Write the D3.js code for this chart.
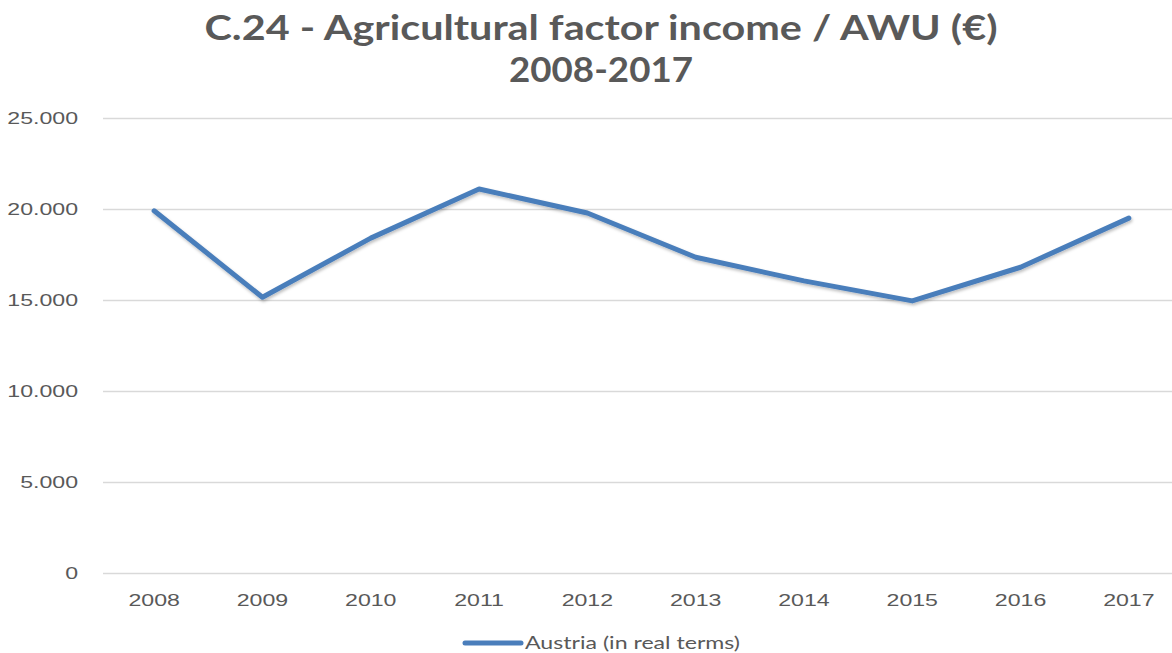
<!DOCTYPE html>
<html>
<head>
<meta charset="utf-8">
<script src="https://cdn.jsdelivr.net/npm/d3@7"></script>
<style>
  html, body { margin: 0; padding: 0; background: #fff; }
  svg { display: block; font-family: Lato, "Open Sans", sans-serif; }
</style>
</head>
<body>
<svg id="chart" width="1172" height="653"></svg>
<script>
const titleLines = ["C.24 - Agricultural factor income / AWU (€)", "2008-2017"];
const years = ["2008","2009","2010","2011","2012","2013","2014","2015","2016","2017"];
const austria = [19900, 15150, 18400, 21100, 19780, 17350, 16050, 14950, 16800, 19500];
const yTicks = [0, 5000, 10000, 15000, 20000, 25000];
const seriesName = "Austria (in real terms)";

const W = 1172, H = 653;
const m = { left: 100, right: -11, top: 118, bottom: 80 };
const svg = d3.select("#chart");
const textColor = "#595959";
const lineColor = "#4a7ebb";
const stretch = 1.36; // reference text appears horizontally stretched

function widen(sel, factor) {
  sel.each(function () {
    const w = this.getComputedTextLength();
    d3.select(this).attr("textLength", w * factor).attr("lengthAdjust", "spacingAndGlyphs");
  });
}

const locale = d3.formatLocale({ decimal: ",", thousands: ".", grouping: [3], currency: ["€", ""] });
const fmt = locale.format(",");

const x = d3.scaleBand().domain(years).range([m.left, W - m.right]);
const y = d3.scaleLinear().domain([0, 25000]).range([H - m.bottom, m.top]);

// title
const titles = svg.selectAll("text.title").data(titleLines).enter().append("text")
  .attr("class", "title")
  .attr("x", 601).attr("y", (d, i) => 40 + i * 42)
  .attr("text-anchor", "middle")
  .attr("font-size", 34).attr("font-weight", "bold")
  .attr("fill", textColor)
  .text(d => d);
titles.attr("textLength", (d, i) => i === 0 ? 793 : 184).attr("lengthAdjust", "spacingAndGlyphs");

// gridlines
const yAxis = d3.axisLeft(y).tickValues(yTicks).tickSize(-(W - m.left)).tickFormat(fmt).tickPadding(25);
const gy = svg.append("g").attr("transform", `translate(${m.left + 3},0)`).call(yAxis);
gy.select(".domain").remove();
gy.selectAll(".tick line").attr("stroke", "#d9d9d9").attr("stroke-width", 1.5);
gy.selectAll(".tick text").attr("fill", textColor).attr("font-size", 17).call(widen, stretch);

// x axis labels
const xAxis = d3.axisBottom(x).tickSize(0).tickPadding(21);
const gx = svg.append("g").attr("transform", `translate(0,${H - m.bottom})`).call(xAxis);
gx.select(".domain").remove();
gx.selectAll(".tick text").attr("fill", textColor).attr("font-size", 17).call(widen, stretch);

// shadow filter
const defs = svg.append("defs");
const f = defs.append("filter").attr("id", "sh").attr("x", "-5%").attr("y", "-5%").attr("width", "110%").attr("height", "120%");
f.append("feDropShadow").attr("dx", 1).attr("dy", 2).attr("stdDeviation", 1.5).attr("flood-color", "#000").attr("flood-opacity", 0.25);

const line = d3.line()
  .x((d, i) => x(years[i]) + x.bandwidth() / 2)
  .y(d => y(d));

svg.append("path").datum(austria)
  .attr("d", line)
  .attr("fill", "none")
  .attr("stroke", lineColor)
  .attr("stroke-width", 5)
  .attr("stroke-linejoin", "round")
  .attr("stroke-linecap", "round")
  .attr("filter", "url(#sh)");

// legend
const lg = svg.append("g").attr("transform", "translate(465,643)");
lg.append("line").attr("x1", 0).attr("x2", 56).attr("y1", 0).attr("y2", 0)
  .attr("stroke", lineColor).attr("stroke-width", 5).attr("stroke-linecap", "round");
lg.append("text").attr("x", 60).attr("y", 6).attr("font-size", 17).attr("fill", textColor)
  .text(seriesName).call(widen, stretch);
</script>
</body>
</html>
